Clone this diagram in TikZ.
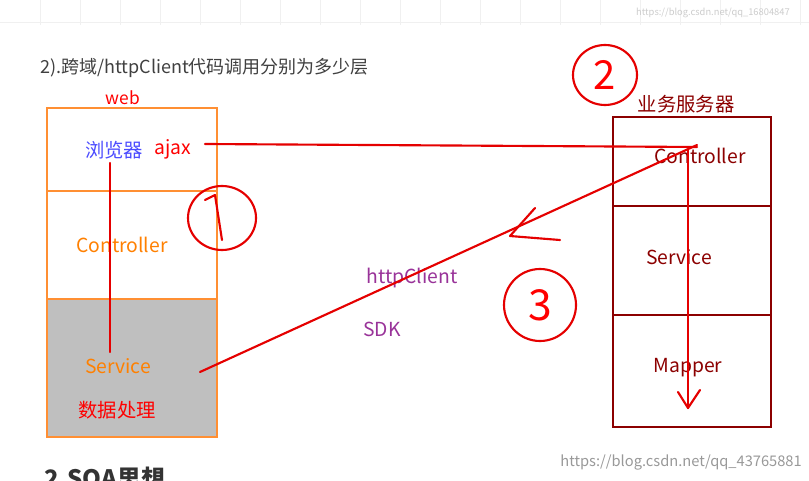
\documentclass[tikz,border=0pt]{standalone}
\usepackage{fontspec}
\setmainfont{Noto Sans CJK SC}
\begin{document}
\begin{tikzpicture}[x=0.75pt,y=-0.75pt,
  lbl/.style={inner sep=0pt,anchor=center},
  big/.style={font=\fontsize{14.5}{16}\selectfont},
  hand/.style={red!90!black,line width=1.6pt,line cap=round,line join=round},
  obox/.style={draw=orange!90!red!80,line width=2pt},
  rbox/.style={draw=red!55!black,line width=2pt}]
\useasboundingbox (0,0) rectangle (809,481);
\fill[white] (0,0) rectangle (809,481);
\foreach \x in {40,80,...,800}{\draw[gray!12] (\x,0) -- (\x,25);}
\draw[gray!12] (0,22) -- (809,22);
\node[lbl,anchor=west,text=black!75,font=\fontsize{13.5}{15}\selectfont] (title) at (40,68) {2).跨域/httpClient代码调用分别为多少层};
% left box
\fill[gray!50] (47,299) rectangle (217,437);
\draw[obox] (47,108) rectangle (217,437);
\draw[obox] (47,191) -- (217,191);
\draw[obox] (47,299) -- (217,299);
\node[lbl,text=red,font=\fontsize{13}{15}\selectfont] (web) at (123,98) {web};
\node[lbl,big,text=blue!70] (browser) at (114,150) {浏览器};
\node[lbl,big,text=red] (ajax) at (173,149) {ajax};
\node[lbl,big,text=orange] (lc) at (122,245) {Controller};
\node[lbl,big,text=orange] (ls) at (118,366) {Service};
\node[lbl,big,text=red] (data) at (117,410) {数据处理};
% right box
\draw[rbox] (613,117) rectangle (771,427);
\draw[rbox] (613,206) -- (771,206);
\draw[rbox] (613,315) -- (771,315);
\node[lbl,big,text=red!55!black] (srv) at (686,104) {业务服务器};
\node[lbl,big,text=red!55!black] (rc) at (700,156) {Controller};
\node[lbl,big,text=red!55!black] (rs) at (679,257) {Service};
\node[lbl,big,text=red!55!black] (rm) at (688,368) {Mapper};
\node[lbl,big,text=violet!80] (hc) at (412,278) {httpClient};
\node[lbl,big,text=violet!80] (sdk) at (382,329) {SDK};
% hand lines
\coordinate (a1) at (205,144); \coordinate (a2) at (697,147);
\coordinate (s1) at (200,372); \coordinate (s2) at (697,145);
\draw[hand] (a1) -- (a2);
\draw[hand] (s1) -- (s2);
\draw[hand] (110,163) -- (110,352);
\draw[hand] (688,150) -- (688,408);
\draw[hand] (678,392) -- (688,408) -- (700,390);
\draw[hand] (535,208) -- (510,236) -- (560,240);
% circled numbers
\draw[hand] (222,218) ellipse (34 and 32);
\draw[hand] (205,200) -- (215,195) -- (222,240);
\draw[hand] (605,75) ellipse (32 and 30);
\node[lbl,text=red,font=\fontsize{30}{30}\selectfont] (n2) at (605,75) {2};
\draw[hand] (540,305) ellipse (36 and 36);
\node[lbl,text=red,font=\fontsize{32}{32}\selectfont] (n3) at (540,305) {3};
% bottom
\node[lbl,anchor=west,text=black!80,font=\bfseries\fontsize{18}{20}\selectfont] (soa) at (44,478) {2.SOA思想};
\node[lbl,anchor=east,text=gray!80,font=\fontsize{11}{13}\selectfont] (wm) at (802,462) {https://blog.csdn.net/qq\_43765881};
\node[lbl,anchor=east,text=gray!40,font=\fontsize{7}{9}\selectfont] (wm2) at (790,13) {https://blog.csdn.net/qq\_16804847};
\end{tikzpicture}
\end{document}
